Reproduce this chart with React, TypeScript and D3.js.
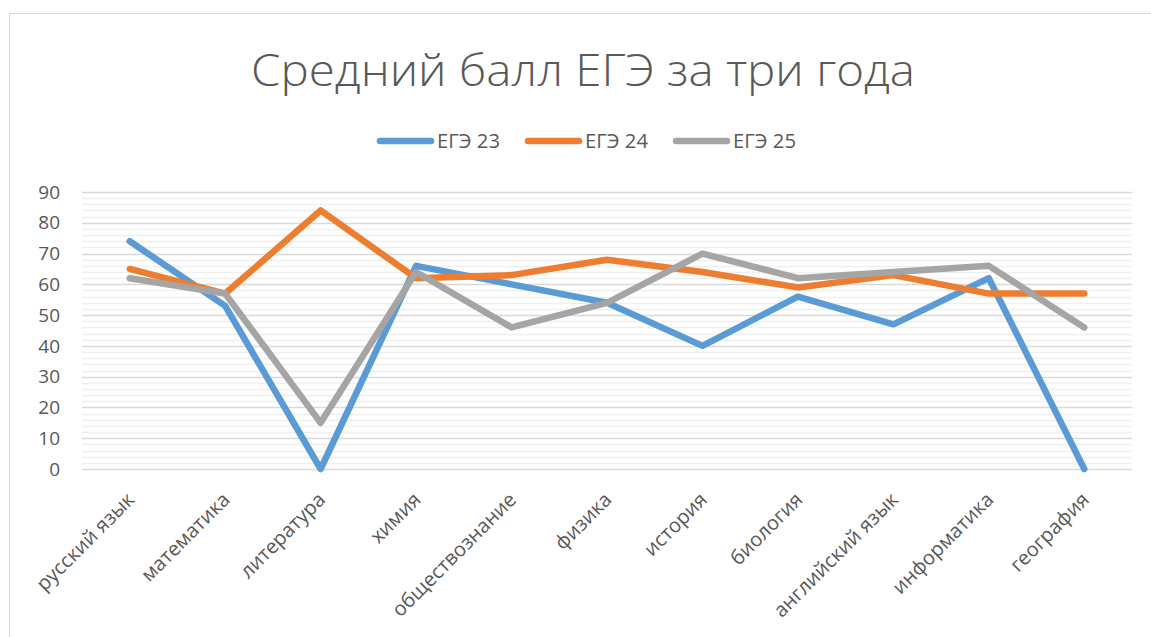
import { useEffect, useRef } from 'react';
import * as d3 from 'd3';

const subjects = [
  'русский язык',
  'математика',
  'литература',
  'химия',
  'обществознание',
  'физика',
  'история',
  'биология',
  'английский язык',
  'информатика',
  'география',
];

const ege23 = [74, 53, 0, 66, 60, 54, 40, 56, 47, 62, 0];
const ege24 = [65, 57, 84, 62, 63, 68, 64, 59, 63, 57, 57];
const ege25 = [62, 57, 15, 64, 46, 54, 70, 62, 64, 66, 46];

const seriesNames = ['ЕГЭ 23', 'ЕГЭ 24', 'ЕГЭ 25'];
const seriesColors = ['#5B9BD5', '#ED7D31', '#A5A5A5'];
const yTicks = [0, 10, 20, 30, 40, 50, 60, 70, 80, 90];

const W = 1151;
const H = 637;
const FONT = '"Open Sans", "Noto Sans", sans-serif';

export default function App() {
  const ref = useRef<SVGSVGElement>(null);

  useEffect(() => {
    if (!ref.current) return;
    const svg = d3.select(ref.current);
    svg.selectAll('*').remove();

    const plot = { left: 82, right: 1132, top: 192, bottom: 469 };

    // chart frame
    svg
      .append('rect')
      .attr('x', 9.5)
      .attr('y', 13.5)
      .attr('width', W + 20)
      .attr('height', H + 20)
      .attr('fill', '#fff')
      .attr('stroke', '#d9d9d9');

    const x = d3.scaleBand<string>().domain(subjects).range([plot.left, plot.right]);
    const y = d3.scaleLinear().domain([0, 90]).range([plot.bottom, plot.top]);
    const cx = (s: string) => (x(s) || 0) + x.bandwidth() / 2;

    // minor grid every 2, major every 10
    const minor = d3.range(0, 91, 2).filter((v) => v % 10 !== 0);
    svg
      .append('g')
      .selectAll('line')
      .data(minor)
      .enter()
      .append('line')
      .attr('x1', plot.left)
      .attr('x2', plot.right)
      .attr('y1', (d) => Math.round(y(d)) + 0.5)
      .attr('y2', (d) => Math.round(y(d)) + 0.5)
      .attr('stroke', '#f0f0f0')
      .attr('stroke-width', 1.5);

    svg
      .append('g')
      .selectAll('line')
      .data(yTicks)
      .enter()
      .append('line')
      .attr('x1', plot.left)
      .attr('x2', plot.right)
      .attr('y1', (d) => Math.round(y(d)) + 0.5)
      .attr('y2', (d) => Math.round(y(d)) + 0.5)
      .attr('stroke', '#d9d9d9')
      .attr('stroke-width', 1.5);

    // y labels
    svg
      .append('g')
      .selectAll('text')
      .data(yTicks)
      .enter()
      .append('text')
      .attr('x', 60)
      .attr('y', (d) => y(d))
      .attr('dy', '0.35em')
      .attr('text-anchor', 'end')
      .attr('font-family', FONT)
      .attr('font-size', 19)
      .attr('fill', '#595959')
      .text((d) => d);

    // x labels, rotated
    svg
      .append('g')
      .selectAll('text')
      .data(subjects)
      .enter()
      .append('text')
      .attr('transform', (d) => `translate(${cx(d) + 1},${plot.bottom + 27}) rotate(-45)`)
      .attr('text-anchor', 'end')
      .attr('dy', '0.35em')
      .attr('font-family', FONT)
      .attr('font-size', 20)
      .attr('fill', '#595959')
      .text((d) => d);

    // lines
    const line = d3
      .line<number>()
      .x((_, i) => cx(subjects[i]))
      .y((d) => y(d));

    [ege23, ege24, ege25].forEach((vals, i) => {
      svg
        .append('path')
        .datum(vals)
        .attr('d', line)
        .attr('fill', 'none')
        .attr('stroke', seriesColors[i])
        .attr('stroke-width', 6.5)
        .attr('stroke-linejoin', 'round')
        .attr('stroke-linecap', 'round');
    });

    // title
    svg
      .append('text')
      .attr('x', 583)
      .attr('y', 86)
      .attr('text-anchor', 'middle')
      .attr('font-family', FONT)
      .attr('font-weight', 300)
      .attr('font-size', 44)
      .attr('textLength', 664)
      .attr('lengthAdjust', 'spacingAndGlyphs')
      .attr('fill', '#595959')
      .text('Средний балл ЕГЭ за три года');

    // legend
    const legendX = [380, 528, 676];
    const lg = svg
      .append('g')
      .selectAll('g')
      .data(seriesNames)
      .enter()
      .append('g')
      .attr('transform', (_, i) => `translate(${legendX[i]},141)`);
    lg.append('line')
      .attr('x1', 0)
      .attr('x2', 51)
      .attr('stroke', (_, i) => seriesColors[i])
      .attr('stroke-width', 6.5)
      .attr('stroke-linecap', 'round');
    lg.append('text')
      .attr('x', 57)
      .attr('dy', '0.35em')
      .attr('font-family', FONT)
      .attr('font-size', 20)
      .attr('textLength', 63)
      .attr('lengthAdjust', 'spacingAndGlyphs')
      .attr('fill', '#595959')
      .text((d) => d);
  }, []);

  return (
    <svg
      ref={ref}
      width={W}
      height={H}
      style={{ position: 'absolute', left: 0, top: 0, background: '#fff' }}
    />
  );
}
